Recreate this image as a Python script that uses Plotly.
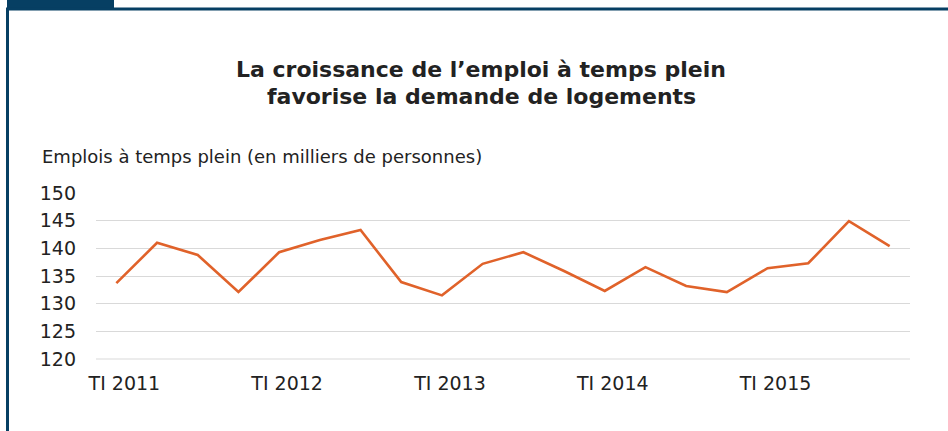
import plotly.graph_objects as go

quarters = [f"T{q} {y}" for y in range(2011, 2016) for q in range(1, 5)]
tick_labels = ["TI 2011", "TI 2012", "TI 2013", "TI 2014", "TI 2015"]
tick_positions = ["T1 2011", "T1 2012", "T1 2013", "T1 2014", "T1 2015"]
emplois = [133.7, 141.0, 138.8, 132.1, 139.3, 141.5, 143.3, 133.9, 131.5, 137.2,
           139.3, 135.9, 132.3, 136.6, 133.2, 132.1, 136.4, 137.3, 144.9, 140.4]

W, H = 948, 431
L, R, T, B = 96, 38, 193, 72
pw, ph = W - L - R, H - T - B

def px_x(x):
    return (x - L) / pw

def px_y(y):
    return (H - B - y) / ph

frame = "#063f63"
font = "'DejaVu Sans', 'Open Sans', sans-serif"
txt = "#222222"

fig = go.Figure()
fig.add_trace(go.Scatter(x=quarters, y=emplois, mode="lines",
                         line=dict(color="#e0622a", width=2.6), hoverinfo="skip"))

fig.update_layout(
    width=W, height=H,
    margin=dict(l=L, r=R, t=T, b=B),
    paper_bgcolor="white", plot_bgcolor="white",
    showlegend=False,
    font=dict(family=font, color=txt, size=18),
    xaxis=dict(type="category", range=[-0.5, 19.5], tickmode="array",
               tickvals=tick_positions, ticktext=tick_labels,
               showgrid=False, zeroline=False, showline=False, ticks="",
               ticklabelshift=8, ticklabelstandoff=11,
               tickfont=dict(size=19, color=txt)),
    yaxis=dict(range=[120, 150], dtick=5, showgrid=True, gridcolor="#d9d9d9",
               gridwidth=1, zeroline=False, showline=False, ticks="",
               ticklabelstandoff=19, tickfont=dict(size=19, color=txt)),
    annotations=[
        dict(text="<b>La croissance de l’emploi à temps plein</b>",
             x=px_x(481), y=px_y(69), xref="paper", yref="paper",
             xanchor="center", yanchor="middle", showarrow=False,
             font=dict(size=22, color=txt, family=font)),
        dict(text="<b>favorise la demande de logements</b>",
             x=px_x(481), y=px_y(97), xref="paper", yref="paper",
             xanchor="center", yanchor="middle", showarrow=False,
             font=dict(size=22, color=txt, family=font)),
        dict(text="Emplois à temps plein (en milliers de personnes)",
             x=px_x(40), y=px_y(156), xref="paper", yref="paper",
             xanchor="left", yanchor="middle", showarrow=False,
             font=dict(size=18, color=txt, family=font)),
    ],
    shapes=[
        dict(type="rect", xref="paper", yref="paper",
             x0=px_x(7), x1=px_x(114), y0=px_y(-1), y1=px_y(10),
             fillcolor=frame, line=dict(width=0), layer="above"),
        dict(type="line", xref="paper", yref="paper",
             x0=px_x(6), x1=px_x(950), y0=px_y(9), y1=px_y(9),
             line=dict(color=frame, width=3), layer="above"),
        dict(type="line", xref="paper", yref="paper",
             x0=px_x(7.5), x1=px_x(7.5), y0=px_y(8), y1=px_y(435),
             line=dict(color=frame, width=3), layer="above"),
        dict(type="line", xref="paper", yref="paper",
             x0=0, x1=1, y0=0, y1=0,
             line=dict(color="#d9d9d9", width=1), layer="below"),
    ],
)

fig.write_html("out.html", config={"displayModeBar": False},
               post_script="document.body.style.margin='0';")
